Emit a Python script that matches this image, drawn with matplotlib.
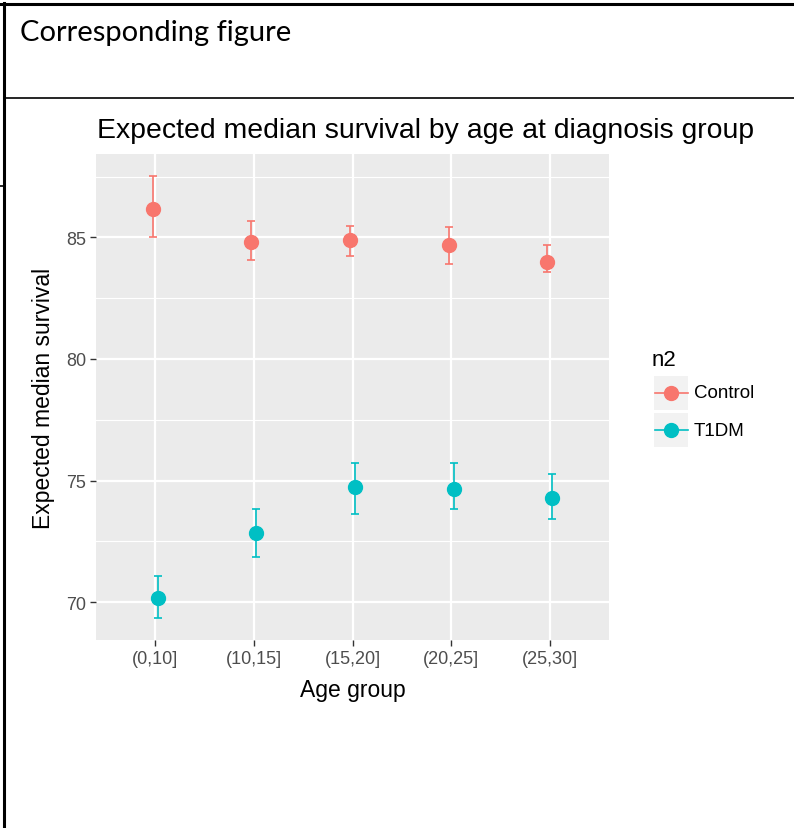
import matplotlib
matplotlib.use("Agg")
import matplotlib.pyplot as plt
from matplotlib.lines import Line2D
from matplotlib.patches import Rectangle
import numpy as np

# values
age_groups = ['(0,10]', '(10,15]', '(15,20]', '(20,25]', '(25,30]']
groups = ['Control', 'T1DM']
colors = ['#F8766D', '#00BFC4']

control_mid = [86.15, 84.82, 84.89, 84.68, 83.97]
control_lo = [85.03, 84.06, 84.23, 83.90, 83.57]
control_hi = [87.52, 85.69, 85.48, 85.41, 84.68]

t1dm_mid = [70.15, 72.85, 74.73, 74.67, 74.29]
t1dm_lo = [69.35, 71.87, 73.62, 73.83, 73.43]
t1dm_hi = [71.08, 73.84, 75.74, 75.74, 75.28]

W, H = 794, 829
fig = plt.figure(figsize=(W / 100, H / 100), dpi=100)
plt.rcParams['font.family'] = ['Liberation Sans', 'DejaVu Sans']


def fx(px):
    return px / W


def fy(py):
    return 1 - py / H


# ---- table cell borders from the document screenshot
fig.add_artist(Line2D([0, 1], [fy(5), fy(5)], color='black', lw=2.2))
fig.add_artist(Line2D([fx(4), fx(4)], [0, fy(4)], color='black', lw=2.2))
fig.add_artist(Line2D([fx(5), 1], [fy(99), fy(99)], color='black', lw=1.2))
fig.add_artist(Line2D([0, fx(4)], [fy(187), fy(187)], color='black', lw=1.2))
fig.text(fx(20), fy(33), 'Corresponding figure', fontsize=21, family=['Lato', 'DejaVu Sans'],
         va='center', ha='left', color='black')

# ---- ggplot style panel
left, right, top, bottom = 96, 609, 155, 641
ax = fig.add_axes([fx(left), fy(bottom), fx(right - left), (bottom - top) / H])
ax.set_facecolor('#EBEBEB')
for s in ax.spines.values():
    s.set_visible(False)

x = np.arange(1, len(age_groups) + 1)
dodge = 0.025
series = [(control_mid, control_lo, control_hi), (t1dm_mid, t1dm_lo, t1dm_hi)]
for i, (mid, lo, hi) in enumerate(series):
    mid = np.array(mid)
    err = [mid - np.array(lo), np.array(hi) - mid]
    xs = x + (-dodge if i == 0 else dodge)
    ax.errorbar(xs, mid, yerr=err, fmt='o', color=colors[i], ms=10, elinewidth=1.2,
                capsize=2.9, capthick=1.2, zorder=3)

ax.set_xlim(0.4, 5.6)
ax.set_ylim(68.44, 88.43)
ax.set_xticks(x)
ax.set_xticklabels(age_groups)
ax.set_yticks([70, 75, 80, 85])
ax.set_yticks([72.5, 77.5, 82.5, 87.5], minor=True)
ax.grid(True, which='major', color='white', lw=1.6, zorder=0)
ax.grid(True, which='minor', axis='y', color='white', lw=0.8, zorder=0)
ax.set_axisbelow(True)
ax.tick_params(axis='both', which='major', colors='#333333', labelcolor='#4D4D4D',
               labelsize=13, length=4, width=1, pad=3)
ax.tick_params(axis='both', which='minor', length=0)

ax.set_xlabel('Age group', fontsize=16.5, color='black', labelpad=8)
ax.set_ylabel('Expected median survival', fontsize=16.5, color='black', labelpad=8)
fig.text(fx(97), fy(131), 'Expected median survival by age at diagnosis group',
         fontsize=20.4, ha='left', va='center', color='black')

# ---- legend drawn like ggplot's keys
fig.text(fx(652), fy(361), 'n2', fontsize=16, ha='left', va='center')
key_tops = [377, 414]
for i, g in enumerate(groups):
    kt = key_tops[i]
    fig.add_artist(Rectangle((fx(654), fy(kt + 34)), fx(34), 34 / H, facecolor='#F2F2F2',
                             edgecolor='none'))
    cy = fy(kt + 17)
    fig.add_artist(Line2D([fx(655), fx(688)], [cy, cy], color=colors[i], lw=1.2))
    fig.add_artist(Line2D([fx(671)], [cy], color=colors[i], marker='o', ms=10, lw=0))
    fig.text(fx(694), cy, g, fontsize=13.5, ha='left', va='center', color='black')

fig.savefig('out.png', dpi=100)
